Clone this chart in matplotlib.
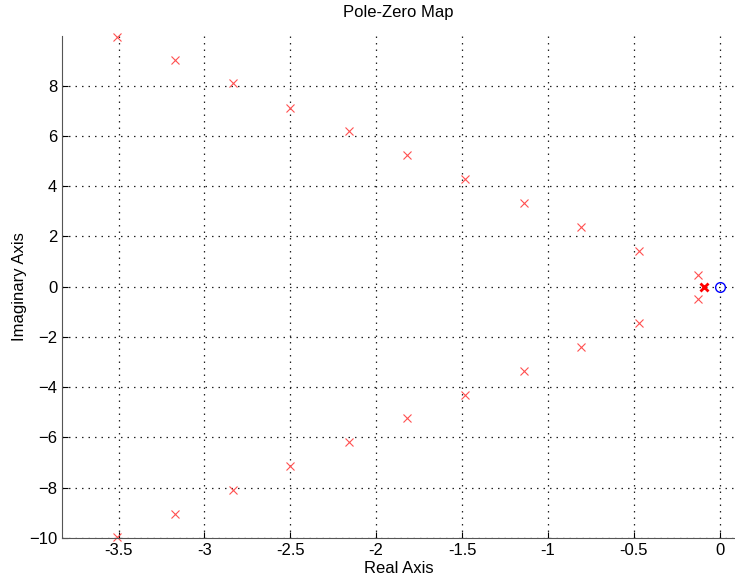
import matplotlib.pyplot as plt
import numpy as np

plt.rcParams['font.family'] = ['Liberation Sans', 'DejaVu Sans']

# poles (upper half, conjugates mirrored below)
pole_re = [-3.51, -3.17, -2.835, -2.50, -2.16, -1.82, -1.48, -1.14, -0.805, -0.467, -0.123]
pole_im = [9.96, 9.04, 8.09, 7.13, 6.18, 5.24, 4.29, 3.34, 2.39, 1.43, 0.48]
# repeated real pole
real_pole = [-0.09]
zero_re = [0.0]
zero_im = [0.0]

xticks = [-3.5, -3, -2.5, -2, -1.5, -1, -0.5, 0]
xticklabels = ['-3.5', '-3', '-2.5', '-2', '-1.5', '-1', '-0.5', '0']
yticks = [-10, -8, -6, -4, -2, 0, 2, 4, 6, 8]

fig = plt.figure(figsize=(7.35, 5.8), dpi=100)
ax = fig.add_axes([62 / 735, 42 / 580, 673 / 735, 502 / 580])

re = np.array(pole_re)
im = np.array(pole_im)
ax.plot(np.concatenate([re, re]), np.concatenate([im, -im]), 'x',
        color='#ff5050', markersize=6, markeredgewidth=0.8, clip_on=False)
ax.plot(real_pole, [0] * len(real_pole), 'x', color='#ff0000',
        markersize=6, markeredgewidth=2.0)
ax.plot(zero_re, zero_im, 'o', mfc='none', mec='#0000ff',
        markersize=7, markeredgewidth=1.0)

ax.set_xlim(-3.83, 0.09)
ax.set_ylim(-10, 9.98)
ax.set_xticks(xticks)
ax.set_xticklabels(xticklabels)
ax.set_yticks(yticks)
ax.grid(True, linestyle=(0, (1.2, 4)), color='#222222', linewidth=0.9)
ax.tick_params(direction='in', labelsize=12, length=4)
for s in ['top', 'right']:
    ax.spines[s].set_visible(False)
for s in ['left', 'bottom']:
    ax.spines[s].set_color('#555555')

ax.set_title('Pole-Zero Map', fontsize=12, pad=14)
ax.set_xlabel('Real Axis', fontsize=12, labelpad=2)
ax.set_ylabel('Imaginary Axis', fontsize=12, labelpad=1)

fig.savefig('out.png', dpi=100)
